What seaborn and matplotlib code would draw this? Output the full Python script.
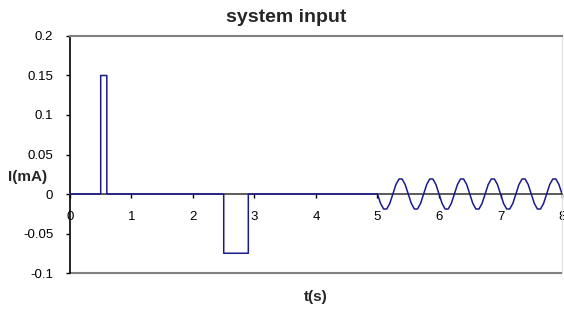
import pandas as pd
import matplotlib
matplotlib.use('Agg')
import matplotlib.pyplot as plt
import seaborn as sns
from matplotlib.ticker import FuncFormatter

# pulse part of the input signal (time in s, current in mA)
pulse_t = [0.0, 0.5, 0.5, 0.6, 0.6, 2.5, 2.5, 2.9, 2.9, 5.0]
pulse_i = [0.0, 0.0, 0.15, 0.15, 0.0, 0.0, -0.075, -0.075, 0.0, 0.0]

# oscillating part (t = 5.05 ... 8.0)
sine_t = [5.05, 5.10, 5.15, 5.20, 5.25, 5.30, 5.35, 5.40, 5.45, 5.50,
          5.55, 5.60, 5.65, 5.70, 5.75, 5.80, 5.85, 5.90, 5.95, 6.00,
          6.05, 6.10, 6.15, 6.20, 6.25, 6.30, 6.35, 6.40, 6.45, 6.50,
          6.55, 6.60, 6.65, 6.70, 6.75, 6.80, 6.85, 6.90, 6.95, 7.00,
          7.05, 7.10, 7.15, 7.20, 7.25, 7.30, 7.35, 7.40, 7.45, 7.50,
          7.55, 7.60, 7.65, 7.70, 7.75, 7.80, 7.85, 7.90, 7.95, 8.00]
sine_i = [-0.012, -0.019, -0.019, -0.012, 0.0, 0.012, 0.019, 0.019, 0.012, 0.0,
          -0.012, -0.019, -0.019, -0.012, 0.0, 0.012, 0.019, 0.019, 0.012, 0.0,
          -0.012, -0.019, -0.019, -0.012, 0.0, 0.012, 0.019, 0.019, 0.012, 0.0,
          -0.012, -0.019, -0.019, -0.012, 0.0, 0.012, 0.019, 0.019, 0.012, 0.0,
          -0.012, -0.019, -0.019, -0.012, 0.0, 0.012, 0.019, 0.019, 0.012, 0.0,
          -0.012, -0.019, -0.019, -0.012, 0.0, 0.012, 0.019, 0.019, 0.012, 0.0]

x_ticks = [0, 1, 2, 3, 4, 5, 6, 7, 8]
y_ticks = [-0.1, -0.05, 0, 0.05, 0.1, 0.15, 0.2]

df = pd.DataFrame({'t': pulse_t + sine_t, 'I': pulse_i + sine_i})

sns.set_style('white')
plt.rcParams['font.family'] = ['Liberation Sans', 'DejaVu Sans']
plt.rcParams['axes.unicode_minus'] = False

fig = plt.figure(figsize=(5.64, 3.09), dpi=100)
ax = fig.add_axes([0.124, 0.1165, 0.8725, 0.767])

sns.lineplot(data=df, x='t', y='I', sort=False, estimator=None,
             color='#1a1a8c', lw=1.1, ax=ax, zorder=3)

ax.set_xlim(0, 8)
ax.set_ylim(-0.1, 0.2)
ax.set_xticks(x_ticks)
ax.set_yticks(y_ticks)
ax.yaxis.set_major_formatter(FuncFormatter(lambda v, p: '%g' % round(v, 3)))

# x axis crosses at zero, plot area framed in grey
ax.spines['bottom'].set_position(('data', 0))
ax.spines['bottom'].set_color('#404040')
ax.spines['bottom'].set_linewidth(1.2)
ax.spines['left'].set_color('black')
ax.spines['left'].set_linewidth(1.2)
ax.spines['top'].set_color('#808080')
ax.spines['top'].set_linewidth(1.5)
ax.spines['right'].set_color('#e0e0e0')
ax.spines['right'].set_linewidth(0.8)
ax.axhline(-0.1, color='#808080', lw=1.5, clip_on=False, zorder=2)

ax.tick_params(axis='both', length=3, width=1, color='black',
               pad=9, labelsize=9.5, labelcolor='black')
ax.tick_params(axis='y', left=True)
ax.tick_params(axis='x', bottom=True)

ax.set_xlabel('t(s)', fontsize=11, fontweight='bold')
ax.xaxis.set_label_coords(0.5, -0.1)
ax.xaxis.label.set_va('center')
ax.set_ylabel('I(mA)', fontsize=11, fontweight='bold', rotation=0)
ax.yaxis.set_label_coords(-0.087, 0.405)
ax.yaxis.label.set_va('center')
ax.yaxis.label.set_ha('center')

ax.set_title('system input', fontsize=14, fontweight='bold', x=0.439, y=1.0, pad=10)

fig.savefig('out.png', dpi=100)
